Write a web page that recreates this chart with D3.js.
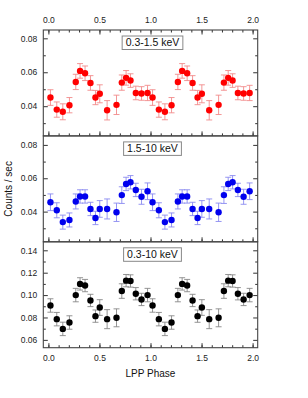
<!DOCTYPE html>
<html>
<head>
<meta charset="utf-8">
<script src="https://cdn.jsdelivr.net/npm/d3@7"></script>
<style>
  body { margin: 0; background: #fff; }
  svg text { font-family: "Liberation Sans", Arial, sans-serif; }
</style>
</head>
<body>
<script>
// ---------- data (one folded cycle, plotted twice) ----------
const phases = [0.02, 0.082, 0.141, 0.206, 0.268, 0.31, 0.359, 0.412, 0.461, 0.503, 0.575, 0.667, 0.719, 0.761, 0.804, 0.856, 0.912, 0.971];
const cycles = [0, 1];

const softRate = [0.0451, 0.038, 0.0367, 0.0406, 0.0543, 0.0608, 0.0594, 0.0537, 0.0451, 0.0473, 0.0376, 0.0408, 0.0539, 0.0567, 0.0551, 0.0478, 0.0475, 0.0478];
const softErr = [0.0046, 0.0045, 0.0047, 0.0045, 0.0045, 0.0043, 0.0043, 0.0043, 0.0042, 0.0053, 0.0057, 0.0057, 0.0045, 0.0043, 0.004, 0.004, 0.004, 0.0045];

const hardRate = [0.0456, 0.0408, 0.0337, 0.035, 0.0461, 0.0491, 0.0491, 0.0416, 0.0362, 0.0416, 0.0416, 0.0396, 0.0499, 0.0566, 0.0576, 0.053, 0.0489, 0.0522];
const hardErr = [0.005, 0.0045, 0.0042, 0.0042, 0.0045, 0.004, 0.004, 0.004, 0.004, 0.005, 0.006, 0.0055, 0.005, 0.004, 0.004, 0.004, 0.0045, 0.005];

const totalRate = [0.0907, 0.0785, 0.0698, 0.0755, 0.1, 0.11, 0.1085, 0.0952, 0.0812, 0.0889, 0.0785, 0.0797, 0.1036, 0.1129, 0.1126, 0.1012, 0.0961, 0.1];
const totalErr = [0.006, 0.006, 0.006, 0.006, 0.006, 0.0055, 0.0055, 0.0055, 0.0055, 0.007, 0.0085, 0.008, 0.0065, 0.0055, 0.0055, 0.0055, 0.0055, 0.006];

const xTicks = [0, 0.5, 1, 1.5, 2];
const xMinor = d3.range(0, 2.05, 0.1);

const panels = [
  { label: "0.3-1.5 keV", rate: softRate, err: softErr, color: "#ff0000", errColor: "#f28a8a",
    domain: [0.0225, 0.0849], ticks: [0.04, 0.06, 0.08], minor: [0.03, 0.05, 0.07] },
  { label: "1.5-10 keV", rate: hardRate, err: hardErr, color: "#0000ee", errColor: "#8a8af0",
    domain: [0.0219, 0.0854], ticks: [0.04, 0.06, 0.08], minor: [0.03, 0.05, 0.07] },
  { label: "0.3-10 keV", rate: totalRate, err: totalErr, color: "#000000", errColor: "#888888",
    domain: [0.053, 0.1476], ticks: [0.06, 0.08, 0.10, 0.12, 0.14], minor: [0.07, 0.09, 0.11, 0.13] }
];

// ---------- layout ----------
const width = 308, height = 398;
const plotLeft = 43.3, plotRight = 257.7, plotTop = 30, panelH = 105.9;

const svg = d3.select("body").append("svg").attr("width", width).attr("height", height);
svg.append("rect").attr("width", width).attr("height", height).attr("fill", "#fff");

const x = d3.scaleLinear().domain([-0.05, 2.05]).range([plotLeft, plotRight]);
const fmt = d3.format(".2f");

function styleAxis(g) {
  g.select(".domain").remove();
  g.selectAll("line").attr("stroke", "#333");
  g.selectAll("text").attr("font-size", 8.5).attr("fill", "#222");
}

panels.forEach((p, i) => {
  const y0 = plotTop + i * panelH, y1 = y0 + panelH;
  const y = d3.scaleLinear().domain(p.domain).range([y1, y0]);
  const g = svg.append("g");

  // y axes
  g.append("g").attr("transform", `translate(${plotLeft},0)`)
    .call(d3.axisLeft(y).tickValues(p.ticks).tickFormat(fmt).tickSize(-4.5).tickPadding(6)).call(styleAxis);
  g.append("g").attr("transform", `translate(${plotLeft},0)`)
    .call(d3.axisLeft(y).tickValues(p.minor).tickFormat("").tickSize(-2.5)).call(styleAxis);
  g.append("g").attr("transform", `translate(${plotRight},0)`)
    .call(d3.axisRight(y).tickValues(p.ticks).tickFormat("").tickSize(-4.5)).call(styleAxis);
  g.append("g").attr("transform", `translate(${plotRight},0)`)
    .call(d3.axisRight(y).tickValues(p.minor).tickFormat("").tickSize(-2.5)).call(styleAxis);

  // x ticks on panel bottom (pointing up)
  const last = i === panels.length - 1;
  g.append("g").attr("transform", `translate(0,${y1})`)
    .call(d3.axisBottom(x).tickValues(xTicks).tickFormat(last ? d3.format(".1f") : "").tickSize(-4.5).tickPadding(7)).call(styleAxis);
  g.append("g").attr("transform", `translate(0,${y1})`)
    .call(d3.axisBottom(x).tickValues(xMinor).tickFormat("").tickSize(-2.5)).call(styleAxis);

  if (i === 0) {
    g.append("g").attr("transform", `translate(0,${y0})`)
      .call(d3.axisTop(x).tickValues(xTicks).tickFormat(d3.format(".1f")).tickSize(-4.5).tickPadding(7)).call(styleAxis);
    g.append("g").attr("transform", `translate(0,${y0})`)
      .call(d3.axisTop(x).tickValues(xMinor).tickFormat("").tickSize(-2.5)).call(styleAxis);
  }

  // frame
  g.append("rect").attr("x", plotLeft).attr("y", y0).attr("width", plotRight - plotLeft).attr("height", panelH)
    .attr("fill", "none").attr("stroke", "#444").attr("stroke-width", 1.1);

  // data: two cycles
  const pts = [];
  cycles.forEach(c => phases.forEach((ph, k) => pts.push({ ph: ph + c, v: p.rate[k], e: p.err[k] })));

  const eb = g.append("g").attr("stroke", p.errColor).attr("stroke-width", 0.9);
  eb.selectAll(".bar").data(pts).join("line").attr("class", "bar")
    .attr("x1", d => x(d.ph)).attr("x2", d => x(d.ph))
    .attr("y1", d => y(d.v - d.e)).attr("y2", d => y(d.v + d.e));
  eb.selectAll(".capTop").data(pts).join("line").attr("class", "capTop")
    .attr("x1", d => x(d.ph) - 3).attr("x2", d => x(d.ph) + 3)
    .attr("y1", d => y(d.v + d.e)).attr("y2", d => y(d.v + d.e));
  eb.selectAll(".capBot").data(pts).join("line").attr("class", "capBot")
    .attr("x1", d => x(d.ph) - 3).attr("x2", d => x(d.ph) + 3)
    .attr("y1", d => y(d.v - d.e)).attr("y2", d => y(d.v - d.e));

  g.append("g").selectAll("circle").data(pts).join("circle")
    .attr("cx", d => x(d.ph)).attr("cy", d => y(d.v)).attr("r", 3.2).attr("fill", p.color);

  // label box
  const lg = g.append("g");
  const txt = lg.append("text").attr("x", 152.5).attr("y", y0 + 16).attr("text-anchor", "middle")
    .attr("font-size", 10.5).attr("fill", "#111").text(p.label);
  const bb = txt.node().getBBox();
  lg.insert("rect", "text").attr("x", bb.x - 3.5).attr("y", y0 + 6).attr("width", bb.width + 7).attr("height", 13.5)
    .attr("fill", "#fff").attr("stroke", "#888").attr("stroke-width", 1);
});

// axis titles
svg.append("text").attr("transform", `translate(12,${plotTop + 1.5 * panelH}) rotate(-90)`)
  .attr("text-anchor", "middle").attr("font-size", 10).attr("fill", "#111").text("Counts / sec");
svg.append("text").attr("x", (plotLeft + plotRight) / 2).attr("y", 377).attr("text-anchor", "middle")
  .attr("font-size", 10).attr("fill", "#111").text("LPP Phase");
</script>
</body>
</html>
